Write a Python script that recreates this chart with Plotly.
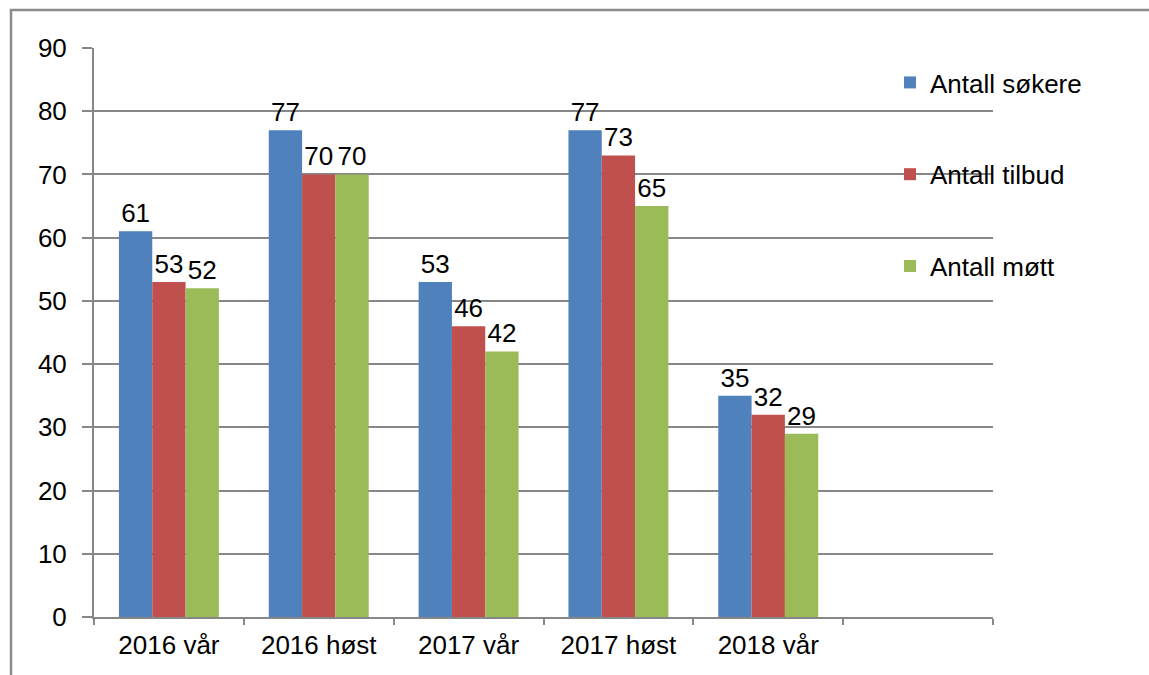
import plotly.graph_objects as go

categories = ["2016 vår", "2016 høst", "2017 vår", "2017 høst", "2018 vår"]
empty_slot = [" "]
series_names = ["Antall søkere", "Antall tilbud", "Antall møtt"]
sokere = [61, 77, 53, 77, 35]
tilbud = [53, 70, 46, 73, 32]
mott = [52, 70, 42, 65, 29]
colors = ["#4F81BD", "#C0504D", "#9BBB59"]
y_ticks = [0, 10, 20, 30, 40, 50, 60, 70, 80, 90]

W, H = 1149, 675
L, T = 94, 48
R = W - 993
B = H - 617
pw, ph = W - L - R, H - T - B

def px_x(p):
    return (p - L) / pw

def px_y(p):
    return (H - B - p) / ph

FONT = "Liberation Sans, Arial"
FS = 26

fig = go.Figure()
for i, (name, vals) in enumerate(zip(series_names, [sokere, tilbud, mott])):
    fig.add_trace(go.Bar(
        x=categories, y=vals, name=name, legendgroup=name,
        marker=dict(color=colors[i], line=dict(width=0)),
        text=[str(v) for v in vals], textposition="outside",
        textfont=dict(size=FS, color="black", family=FONT),
        cliponaxis=False,
    ))

grid = "#878787"
fig.update_layout(
    width=W, height=H,
    margin=dict(l=L, r=R, t=T, b=B, autoexpand=False),
    paper_bgcolor="white", plot_bgcolor="white",
    barmode="group", bargap=0.333, bargroupgap=0,
    font=dict(family=FONT, size=FS, color="black"),
    showlegend=True,
    legend=dict(x=px_x(890), y=px_y(59), xanchor="left", yanchor="top",
                bgcolor="rgba(0,0,0,0)", font=dict(size=FS),
                tracegroupgap=55, itemwidth=30, traceorder="grouped"),
    xaxis=dict(type="category", categoryorder="array", categoryarray=categories + empty_slot,
               range=[-0.5, 5.5], tickson="boundaries", ticks="outside", ticklen=6,
               tickcolor=grid, tickwidth=2, showline=True, linecolor=grid, linewidth=2,
               showgrid=False, tickfont=dict(size=FS), ticklabelstandoff=4),
    yaxis=dict(range=[0, 90], tickvals=y_ticks, ticks="outside", ticklen=10,
               tickcolor=grid, tickwidth=2, showline=True, linecolor=grid, linewidth=2,
               showgrid=True, gridcolor=grid, gridwidth=2, zeroline=False,
               tickfont=dict(size=FS), ticklabelstandoff=10),
    shapes=[dict(type="rect", xref="paper", yref="paper",
                 x0=px_x(11), x1=px_x(1170),
                 y0=px_y(700), y1=px_y(10),
                 line=dict(color="#8c8c8c", width=2.5), layer="below")],
)

fig.write_html("out.html", config={"displayModeBar": False},
               post_script="document.body.style.margin='0';document.body.style.overflow='hidden';")
